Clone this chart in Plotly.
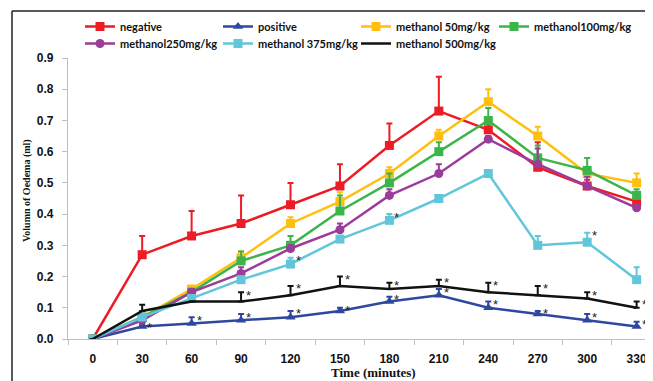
import plotly.graph_objects as go

times = ["0", "30", "60", "90", "120", "150", "180", "210", "240", "270", "300", "330"]

series_names = ["negative", "positive", "methanol 50mg/kg", "methanol100mg/kg",
                "methanol250mg/kg", "methanol 375mg/kg", "methanol 500mg/kg"]

negative = [0, 0.27, 0.33, 0.37, 0.43, 0.49, 0.62, 0.73, 0.67, 0.55, 0.49, 0.44]
negative_err = [0, 0.06, 0.08, 0.09, 0.07, 0.07, 0.07, 0.11, 0.02, 0.08, 0.02, 0.02]

positive = [0, 0.04, 0.05, 0.06, 0.07, 0.09, 0.12, 0.14, 0.10, 0.08, 0.06, 0.04]
positive_err = [0, 0.005, 0.02, 0.02, 0.02, 0.01, 0.015, 0.02, 0.02, 0.01, 0.02, 0.015]

m50 = [0, 0.07, 0.16, 0.26, 0.37, 0.44, 0.53, 0.65, 0.76, 0.65, 0.53, 0.50]
m50_err = [0, 0.01, 0.01, 0.02, 0.02, 0.03, 0.02, 0.02, 0.04, 0.03, 0.02, 0.03]

m100 = [0, 0.07, 0.15, 0.25, 0.30, 0.41, 0.50, 0.60, 0.70, 0.58, 0.54, 0.46]
m100_err = [0, 0.01, 0.01, 0.03, 0.03, 0.05, 0.03, 0.03, 0.04, 0.04, 0.04, 0.02]

m250 = [0, 0.06, 0.15, 0.21, 0.29, 0.35, 0.46, 0.53, 0.64, 0.56, 0.49, 0.42]
m250_err = [0, 0.01, 0.01, 0.02, 0.01, 0.02, 0.02, 0.03, 0.01, 0.05, 0.03, 0.01]

m375 = [0, 0.07, 0.13, 0.19, 0.24, 0.32, 0.38, 0.45, 0.53, 0.30, 0.31, 0.19]
m375_err = [0, 0.01, 0.01, 0.01, 0.02, 0.01, 0.02, 0.01, 0.01, 0.03, 0.03, 0.04]

m500 = [0, 0.09, 0.12, 0.12, 0.14, 0.17, 0.16, 0.17, 0.15, 0.14, 0.13, 0.10]
m500_err = [0, 0.02, 0.0, 0.03, 0.03, 0.03, 0.02, 0.02, 0.03, 0.03, 0.02, 0.02]

# indices of time points marked with a significance asterisk
star_positive = [1, 2, 3, 4, 5, 6, 7, 8, 9, 10, 11]
star_m375 = [4, 6, 10]
star_m500 = [3, 4, 5, 6, 7, 8, 9, 10, 11]

values = [negative, positive, m50, m100, m250, m375, m500]
errors = [negative_err, positive_err, m50_err, m100_err, m250_err, m375_err, m500_err]
colors = ["#ed1c24", "#2e48a0", "#ffbf0f", "#3bb54a", "#9b3c9b", "#62c6da", "#111111"]
symbols = ["square", "triangle-up", "square", "square", "circle", "square", None]

# legend slot layout (column, row) for each series
legend_col = [0, 1, 2, 3, 0, 1, 2]
legend_row = [0, 0, 0, 0, 1, 1, 1]

# plot area in pixels (figure is drawn 8px in from the page corner)
PL, PT, PW, PH = 60, 50, 580, 281
W, H = 645, 373


def px_x(page_x):
    return (page_x - 8 - PL) / PW


def px_y(page_y):
    return 1 - (page_y - 8 - PT) / PH


fig = go.Figure()
legend_layouts = {}
for k, (name, v, e, c, s) in enumerate(zip(series_names, values, errors, colors, symbols)):
    lg = "legend" if k == 0 else f"legend{k + 1}"
    fig.add_trace(go.Scatter(
        x=times, y=v, name=name, legend=lg,
        mode="lines+markers" if s else "lines",
        line=dict(color=c, width=2.5),
        marker=dict(symbol=s or "circle", size=9, color=c),
        error_y=dict(type="data", symmetric=False, array=e, arrayminus=[0] * len(e),
                     color=c, thickness=2, width=3),
    ))
    legend_layouts[lg] = dict(
        orientation="h", xanchor="left", yanchor="top",
        x=px_x(80 + 138 * legend_col[k]), y=px_y(12 + 17 * legend_row[k]),
        font=dict(family="Lato", size=11, color="#111", weight="bold"),
        bgcolor="rgba(0,0,0,0)")

annotations = []
for idxs, v, e in [(star_positive, positive, positive_err),
                   (star_m375, m375, m375_err),
                   (star_m500, m500, m500_err)]:
    for i in idxs:
        annotations.append(dict(x=i, y=v[i] + e[i], xref="x", yref="y",
                                text="*", showarrow=False, xanchor="left", yanchor="middle",
                                xshift=3, yshift=-3,
                                font=dict(family="Liberation Sans", size=13, color="#222")))

annotations.append(dict(x=px_x(373), y=px_y(372), xref="paper", yref="paper",
                        text="<b>Time (minutes)</b>", showarrow=False,
                        xanchor="center", yanchor="middle",
                        font=dict(family="Liberation Serif", size=13, color="#111")))
annotations.append(dict(x=px_x(27), y=px_y(191), xref="paper", yref="paper",
                        text="<b>Volumn of Oedema (ml)</b>", showarrow=False, textangle=-90,
                        xanchor="center", yanchor="middle",
                        font=dict(family="Liberation Serif", size=10, color="#111")))

shapes = [
    dict(type="line", xref="paper", yref="paper", x0=px_x(12), x1=1.2,
         y0=px_y(11), y1=px_y(11), line=dict(color="#222", width=1.5)),
    dict(type="line", xref="paper", yref="paper", x0=px_x(12), x1=px_x(12),
         y0=px_y(11), y1=-0.4, line=dict(color="#222", width=1.5)),
]

tickfont = dict(family="Liberation Sans", size=12, color="#111", weight="bold")

fig.update_layout(
    width=W, height=H,
    margin=dict(l=PL, r=W - PL - PW, t=PT, b=H - PT - PH, autoexpand=False),
    paper_bgcolor="white", plot_bgcolor="white",
    showlegend=True,
    xaxis=dict(type="category", range=[-0.5, 11.23], showline=True, linecolor="#bfbfbf",
               linewidth=1.2, ticks="outside", tickson="boundaries", ticklen=5,
               tickcolor="#bfbfbf", showgrid=False, zeroline=False, tickfont=tickfont,
               ticklabelstandoff=8),
    yaxis=dict(range=[0, 0.9], dtick=0.1, showline=True, linecolor="#bfbfbf", linewidth=1.2,
               ticks="outside", ticklen=5, tickcolor="#bfbfbf", showgrid=False,
               zeroline=False, tickfont=tickfont, tickformat=".1f",
               ticklabelstandoff=6),
    annotations=annotations,
    shapes=shapes,
    **legend_layouts,
)

fig.write_html("out.html")
